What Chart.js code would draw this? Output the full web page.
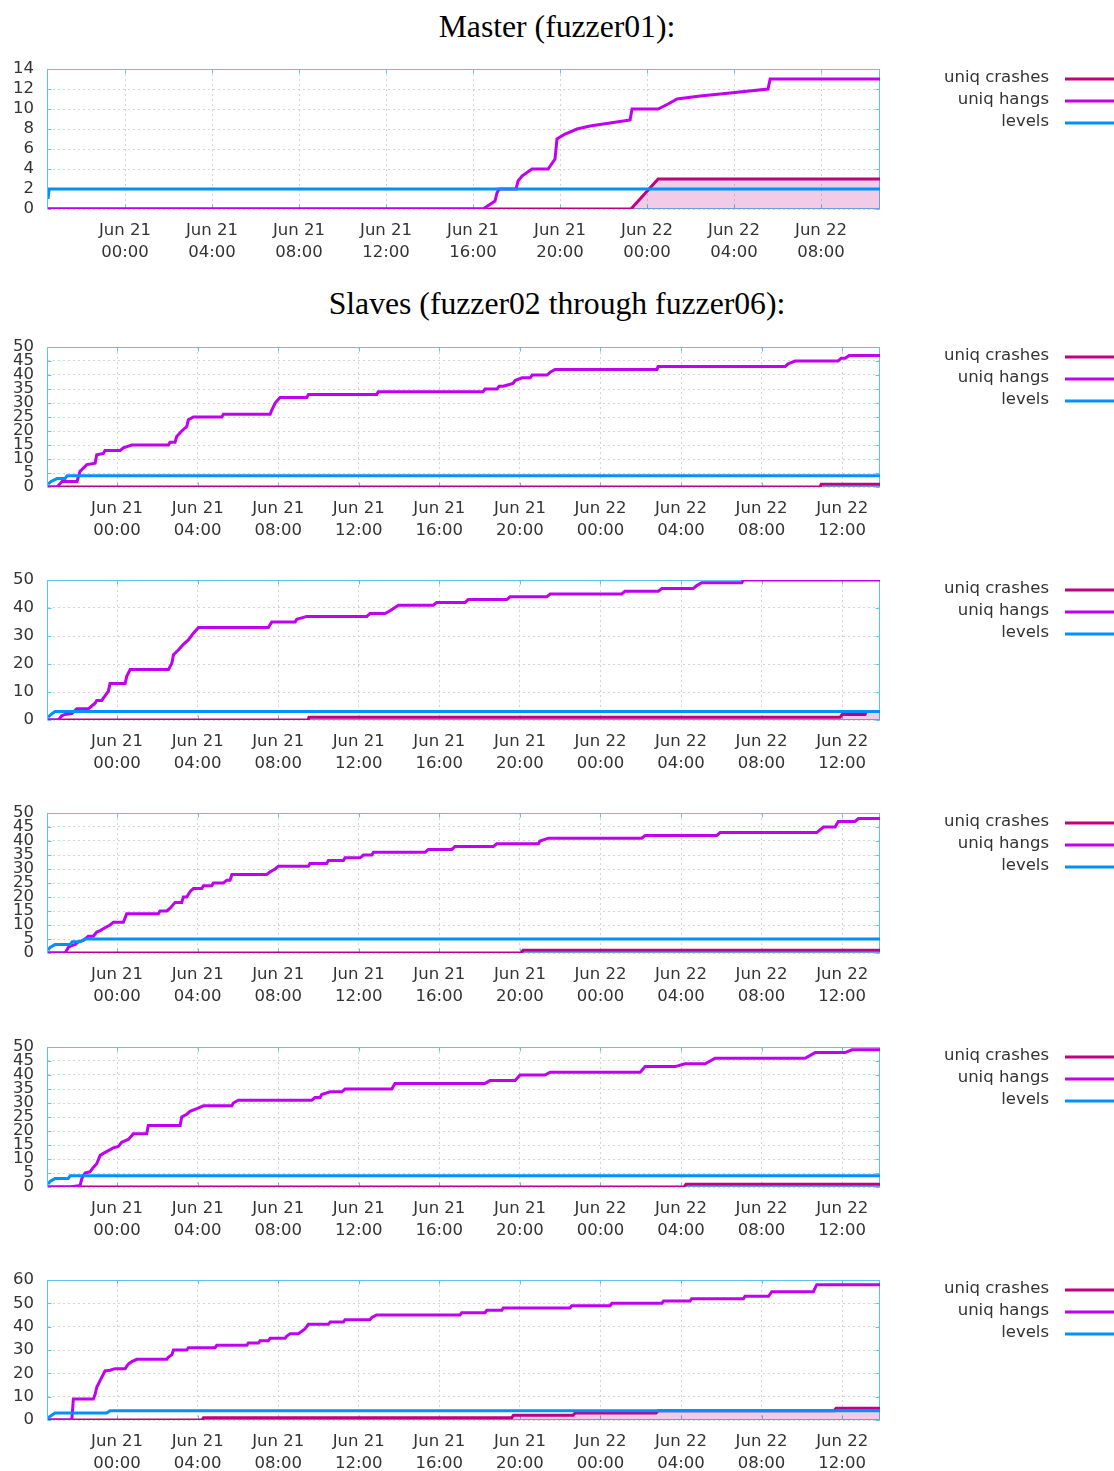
<!DOCTYPE html>
<html>
<head>
<meta charset="utf-8">
<script src="https://cdn.jsdelivr.net/npm/chart.js@4.4.1/dist/chart.umd.min.js"></script>
<style>
  body { margin: 0; background: #fff; width: 1114px; height: 1471px; position: relative; overflow: hidden; }
  .ttl { position: absolute; left: 0; width: 1114px; text-align: center; font-family: "Liberation Serif", "Times New Roman", serif; font-size: 31.7px; line-height: 36px; color: #000; }
  canvas { position: absolute; left: 0; }
</style>
</head>
<body>
<div class="ttl" style="top:9px">Master (fuzzer01):</div>
<div class="ttl" style="top:286px">Slaves (fuzzer02 through fuzzer06):</div>
<canvas id="c0" width="1114" height="214" style="top:55px"></canvas>
<canvas id="c1" width="1114" height="214" style="top:333px"></canvas>
<canvas id="c2" width="1114" height="214" style="top:566px"></canvas>
<canvas id="c3" width="1114" height="214" style="top:799px"></canvas>
<canvas id="c4" width="1114" height="214" style="top:1033px"></canvas>
<canvas id="c5" width="1114" height="214" style="top:1266px"></canvas>
<script>
// x values are hours since Jun 21 00:00
const masterTicks = [0, 4, 8, 12, 16, 20, 24, 28, 32];
const slaveTicks = [0, 4, 8, 12, 16, 20, 24, 28, 32, 36];
const masterRange = [-3.54, 34.71];
const slaveRange = [-3.43, 37.88];
const yMaxes = [14, 50, 50, 50, 50, 60];
const ySteps = [2, 5, 10, 5, 5, 10];
const seriesNames = ['uniq crashes', 'uniq hangs', 'levels'];

// fuzzer01 (master)
const m01Crashes = [[-3.54,0],[23.26,0],[24.51,3],[34.71,3]];
const m01Hangs = [[-3.54,0],[16.46,0],[17.01,0.8],[17.10,1.6],[17.20,2],[17.98,2],[18.07,2.8],[18.25,3.3],[18.71,4],[19.45,4],[19.77,5],[19.86,7],[20.23,7.5],[20.78,8],[21.38,8.3],[22.30,8.6],[23.22,8.9],[23.31,10],[24.51,10],[24.97,10.5],[25.38,11],[26.44,11.3],[27.82,11.6],[29.56,12],[29.66,13],[34.71,13]];
const m01Levels = [[-3.54,1],[-3.49,2],[34.71,2]];

// fuzzer02
const s02Crashes = [[-3.43,0],[34.91,0],[34.96,1],[37.88,1]];
const s02Hangs = [[-3.43,0],[-2.98,0],[-2.73,2],[-1.99,2],[-1.84,5.6],[-1.50,8],[-1.09,8.5],[-1.01,11.5],[-0.68,12],[-0.60,13],[0.15,13],[0.31,14],[0.73,15],[2.55,15],[2.63,16],[2.88,16],[2.96,18],[3.21,20],[3.46,21.6],[3.54,24],[3.79,25],[5.20,25],[5.28,26],[7.60,26],[7.68,27.5],[7.85,30],[8.09,32],[9.42,32],[9.50,33],[12.89,33],[12.97,34],[18.17,34],[18.27,35],[18.87,35],[18.97,36],[19.17,36],[19.66,37],[19.76,38],[20.11,39],[20.51,39],[20.61,40],[21.35,40],[21.50,41],[21.75,42],[26.81,42],[26.86,43],[33.17,43],[33.32,44],[33.66,45],[35.80,45],[35.95,46],[36.15,46],[36.35,47],[37.88,47]];
const s02Levels = [[-3.43,1],[-3.28,2],[-2.98,3],[-2.58,3],[-2.48,4],[37.88,4]];

// fuzzer03
const s03Crashes = [[-3.43,0],[9.48,0],[9.53,1],[35.90,1],[36.00,2],[37.14,2],[37.19,3],[37.88,3]];
const s03Hangs = [[-3.43,0],[-2.91,0],[-2.75,1.5],[-2.58,2],[-2.25,2.3],[-2.00,4],[-1.43,4],[-1.26,5],[-1.09,6],[-1.01,7],[-0.76,7],[-0.60,8.6],[-0.43,10.3],[-0.35,13],[0.40,13],[0.48,15.6],[0.65,18],[2.55,18],[2.72,20.3],[2.80,23.3],[3.04,25],[3.29,27],[3.54,28.6],[3.79,31],[4.04,33],[7.51,33],[7.68,35],[8.84,35],[8.92,36],[9.42,37],[12.40,37],[12.56,38],[13.31,38],[13.55,39],[13.97,41],[15.70,41],[15.87,42],[17.28,42],[17.44,43],[19.35,43],[19.51,44],[21.34,44],[21.50,45],[25.06,45],[25.22,46],[26.88,46],[27.05,47],[28.61,47],[28.78,48],[29.03,49],[31.02,49],[31.10,50],[37.88,50]];
const s03Levels = [[-3.43,1],[-3.28,2],[-3.08,3],[37.88,3]];

// fuzzer04
const s04Crashes = [[-3.43,0],[20.06,0],[20.16,1],[37.88,1]];
const s04Hangs = [[-3.43,0],[-2.58,0],[-2.42,2],[-2.25,2.7],[-2.09,3],[-1.92,4],[-1.67,4.5],[-1.43,6],[-1.18,6],[-1.01,7.5],[-0.84,8],[-0.60,9],[-0.35,10],[-0.18,11],[0.31,11],[0.48,14],[2.05,14],[2.13,15],[2.47,15],[2.63,16],[2.88,18],[3.21,18],[3.29,20],[3.46,20],[3.63,22],[3.79,23],[4.21,23],[4.29,24],[4.70,24],[4.78,25],[5.28,25],[5.45,26],[5.61,26],[5.70,28],[7.43,28],[7.60,29],[7.85,30],[8.01,31],[9.50,31],[9.58,32],[10.41,32],[10.49,33],[11.24,33],[11.32,34],[12.07,34],[12.23,35],[12.65,35],[12.73,36],[15.29,36],[15.46,37],[16.62,37],[16.78,38],[18.68,38],[18.85,39],[20.92,39],[21.00,40],[21.42,41],[26.05,41],[26.22,42],[29.78,42],[29.94,43],[34.74,43],[35.07,45],[35.65,45],[35.81,47],[36.64,47],[36.81,48],[37.88,48]];
const s04Levels = [[-3.43,1],[-3.33,2],[-3.08,3],[-2.33,3],[-2.23,4],[-1.84,4],[-1.59,5],[37.88,5]];

// fuzzer05
const s05Crashes = [[-3.43,0],[28.15,0],[28.25,1],[37.88,1]];
const s05Hangs = [[-3.43,0],[-2.33,0],[-1.84,0.5],[-1.75,3],[-1.59,5],[-1.34,5.5],[-1.18,7],[-1.01,8.3],[-0.84,11.3],[-0.68,12],[-0.43,13],[-0.18,14],[0.06,14.5],[0.23,16],[0.56,17],[0.81,19],[1.47,19],[1.55,22],[3.13,22],[3.21,25],[3.46,26],[3.62,27],[3.96,28],[4.29,29],[5.70,29],[5.77,30],[6.02,31],[9.67,31],[9.83,32],[10.08,32],[10.16,33],[10.58,34],[11.16,34],[11.32,35],[13.64,35],[13.80,37],[18.27,37],[18.52,38],[19.76,38],[20.01,40],[21.25,40],[21.50,41],[25.97,41],[26.22,43],[27.71,43],[28.20,44],[29.20,44],[29.69,46],[34.16,46],[34.66,48],[36.15,48],[36.49,49],[37.88,49]];
const s05Levels = [[-3.43,1],[-3.33,2],[-3.08,3],[-2.43,3],[-2.33,4],[37.88,4]];

// fuzzer06
const s06Crashes = [[-3.43,0],[4.21,0],[4.29,1],[19.60,1],[19.68,2],[22.64,2],[22.74,3],[26.76,3],[26.86,4],[35.60,4],[35.70,5],[37.88,5]];
const s06Hangs = [[-3.43,0],[-2.25,0],[-2.17,9],[-1.18,9],[-1.09,11],[-1.01,14],[-0.84,17],[-0.60,21],[-0.35,21.3],[-0.10,22],[0.40,22],[0.56,24],[0.73,25],[0.98,26],[2.47,26],[2.55,27],[2.72,28],[2.80,30],[3.46,30],[3.54,31],[4.87,31],[4.95,32],[6.44,32],[6.52,33],[7.02,33],[7.10,34],[7.51,34],[7.60,35],[8.34,35],[8.43,36],[8.59,37],[9.00,37],[9.17,38],[9.33,39],[9.50,41],[10.49,41],[10.58,42],[11.24,42],[11.32,43],[12.56,43],[12.65,44],[12.89,45],[17.03,45],[17.11,46],[18.27,46],[18.36,47],[19.10,47],[19.18,48],[22.49,48],[22.57,49],[24.48,49],[24.57,50],[27.05,50],[27.13,51],[28.45,51],[28.53,52],[31.10,52],[31.18,53],[32.34,53],[32.51,55],[34.57,55],[34.74,58],[37.88,58]];
const s06Levels = [[-3.43,1],[-3.25,2],[-3.08,3],[-0.51,3],[-0.35,4],[37.88,4]];

const crashColor = '#c00080';
const hangColor = '#c000f0';
const levelColor = '#0090ff';
const frameColor = '#5cc4f0';
const textColor = '#333';
const fontFamily = '"DejaVu Sans", sans-serif';

Chart.defaults.font.family = fontFamily;
Chart.defaults.font.size = 16.5;
Chart.defaults.color = textColor;

const panels = [
  { crashes: m01Crashes, hangs: m01Hangs, levels: m01Levels, range: masterRange, ticks: masterTicks },
  { crashes: s02Crashes, hangs: s02Hangs, levels: s02Levels, range: slaveRange, ticks: slaveTicks },
  { crashes: s03Crashes, hangs: s03Hangs, levels: s03Levels, range: slaveRange, ticks: slaveTicks },
  { crashes: s04Crashes, hangs: s04Hangs, levels: s04Levels, range: slaveRange, ticks: slaveTicks },
  { crashes: s05Crashes, hangs: s05Hangs, levels: s05Levels, range: slaveRange, ticks: slaveTicks },
  { crashes: s06Crashes, hangs: s06Hangs, levels: s06Levels, range: slaveRange, ticks: slaveTicks }
];

function pts(arr) {
  return arr.map(p => ({ x: p[0], y: p[1] }));
}

function hourLabel(v) {
  const day = v < 24 ? 'Jun 21' : 'Jun 22';
  const h = ((v % 24) + 24) % 24;
  return [day, (h < 10 ? '0' : '') + h + ':00'];
}

// plot border plus the little inward tick marks gnuplot draws
const frame = {
  id: 'frame',
  beforeDatasetsDraw(chart) {
    const { ctx, chartArea: a, scales } = chart;
    const l = Math.round(a.left) - 0.5, r = Math.round(a.right) - 0.5;
    const t = Math.round(a.top) + 0.5, b = Math.round(a.bottom) - 0.5;
    ctx.save();
    ctx.strokeStyle = frameColor;
    ctx.lineWidth = 1;
    ctx.beginPath();
    scales.x.ticks.forEach(tk => {
      const x = Math.round(scales.x.getPixelForValue(tk.value)) + 0.5;
      ctx.moveTo(x, b); ctx.lineTo(x, b - 4);
      ctx.moveTo(x, t); ctx.lineTo(x, t + 4);
    });
    scales.y.ticks.forEach(tk => {
      const y = Math.round(scales.y.getPixelForValue(tk.value)) + 0.5;
      ctx.moveTo(l, y); ctx.lineTo(l + 4, y);
      ctx.moveTo(r, y); ctx.lineTo(r - 4, y);
    });
    ctx.stroke();
    ctx.strokeRect(l, t, r - l, b - t);
    ctx.restore();
  }
};

// legend at the right, text right aligned with a line sample
const sideLegend = {
  id: 'sideLegend',
  afterDraw(chart) {
    const { ctx, chartArea: a } = chart;
    const colors = [crashColor, hangColor, levelColor];
    ctx.save();
    ctx.font = '16.5px ' + fontFamily;
    ctx.textAlign = 'right';
    ctx.textBaseline = 'middle';
    seriesNames.forEach((name, i) => {
      const y = a.top + 9 + i * 22;
      ctx.fillStyle = textColor;
      ctx.fillText(name, 1049, y);
      ctx.strokeStyle = colors[i];
      ctx.lineWidth = 3;
      ctx.beginPath();
      ctx.moveTo(1065, y + 1);
      ctx.lineTo(1114, y + 1);
      ctx.stroke();
    });
    ctx.restore();
  }
};

panels.forEach((p, i) => {
  new Chart(document.getElementById('c' + i), {
    type: 'line',
    data: {
      datasets: [
        { label: 'levels', data: pts(p.levels), borderColor: levelColor, borderWidth: 3, pointRadius: 0, fill: false, tension: 0 },
        { label: 'uniq hangs', data: pts(p.hangs), borderColor: hangColor, borderWidth: 3, pointRadius: 0, fill: false, tension: 0 },
        { label: 'uniq crashes', data: pts(p.crashes), borderColor: crashColor, borderWidth: 3, pointRadius: 0, fill: 'origin', backgroundColor: 'rgba(192,0,128,0.2)', tension: 0 }
      ]
    },
    options: {
      responsive: false,
      animation: false,
      layout: { padding: { left: 0, right: 234, top: 14, bottom: 0 } },
      plugins: { legend: { display: false }, tooltip: { enabled: false } },
      scales: {
        x: {
          type: 'linear',
          min: p.range[0],
          max: p.range[1],
          afterBuildTicks: s => { s.ticks = p.ticks.map(v => ({ value: v })); },
          afterFit: s => { s.height = 60; s.paddingLeft = 0; s.paddingRight = 0; },
          ticks: { autoSkip: false, maxRotation: 0, padding: 11, font: { lineHeight: 1.333 }, callback: v => hourLabel(v) },
          grid: { color: '#d4d4d4', drawTicks: false },
          border: { display: false, dash: [2, 3] }
        },
        y: {
          min: 0,
          max: yMaxes[i],
          afterFit: s => { s.width = 48; s.paddingTop = 0; s.paddingBottom = 0; },
          ticks: { stepSize: ySteps[i], autoSkip: false, padding: 14 },
          grid: { color: '#d4d4d4', drawTicks: false },
          border: { display: false, dash: [2, 3] }
        }
      }
    },
    plugins: [frame, sideLegend]
  });
});
</script>
</body>
</html>
